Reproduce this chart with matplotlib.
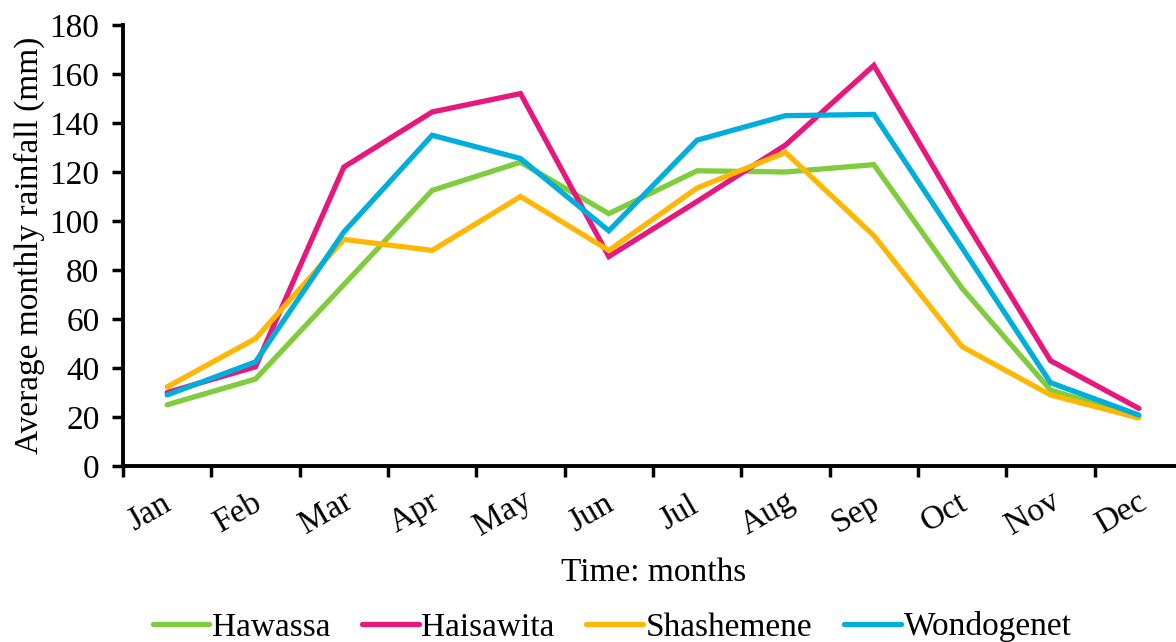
import matplotlib
matplotlib.use("Agg")
import matplotlib.pyplot as plt
from matplotlib.transforms import ScaledTranslation

months = ["Jan", "Feb", "Mar", "Apr", "May", "Jun", "Jul", "Aug", "Sep", "Oct", "Nov", "Dec"]
hawassa = [25, 35.5, 74, 112.5, 124, 103, 120.5, 120, 123, 72.5, 31, 20]
haisawita = [30, 40.5, 122, 144.5, 152, 85.5, 108, 131, 163.5, 102, 43, 23.5]
shashemene = [32.3, 52, 92.5, 88, 110, 88, 113.5, 128, 94, 48.7, 29, 19.6]
wondogenet = [29, 42.5, 95.5, 135, 125.5, 96, 133, 143, 143.5, 89, 34, 20.8]

series = [
    ("Hawassa", hawassa, "#7FCC3C"),
    ("Haisawita", haisawita, "#E8177D"),
    ("Shashemene", shashemene, "#FFB703"),
    ("Wondogenet", wondogenet, "#00AEDB"),
]

plt.rcParams["font.family"] = ["Liberation Serif", "DejaVu Serif"]
fs = 24

fig = plt.figure(figsize=(11.76, 6.42), dpi=100)
ax = fig.add_axes([123 / 1176, 1 - 466 / 642, 1060 / 1176, 441 / 642])

x = list(range(len(months)))
for name, vals, col in series:
    ax.plot(x, vals, color=col, lw=3.8, label=name, solid_joinstyle="miter",
            solid_capstyle="round")

ax.set_xlim(-0.5, 11.5)
ax.set_ylim(0, 180)
ax.set_yticks(range(0, 181, 20))
ax.set_xticks(x)
ax.set_xticklabels(months, rotation=30, ha="center", va="center", fontsize=fs)
ax.set_xticks([i - 0.5 for i in range(13)], minor=True)
ax.tick_params(axis="x", which="major", length=0, pad=0)
ax.tick_params(axis="x", which="minor", length=8, width=2.5, direction="out")
ax.tick_params(axis="y", length=8, width=2.5, direction="out", labelsize=fs, pad=9)

off = ScaledTranslation(-0.18, -0.47, fig.dpi_scale_trans)
for lab in ax.get_xticklabels():
    lab.set_transform(lab.get_transform() + off)

for s in ["top", "right"]:
    ax.spines[s].set_visible(False)
for s in ["left", "bottom"]:
    ax.spines[s].set_linewidth(2.8)

ax.set_ylabel("Average monthly rainfall (mm)", fontsize=fs, labelpad=3)
fig.text(654 / 1176, 1 - 573 / 642, "Time: months", fontsize=fs, ha="center", va="center")

leg = fig.legend(loc="center", bbox_to_anchor=(612 / 1176, 1 - 627 / 642), ncol=4,
                 frameon=False, fontsize=fs, handlelength=1.7, handletextpad=0.08,
                 columnspacing=0.95, borderaxespad=0)

fig.savefig("out.png", dpi=100)
